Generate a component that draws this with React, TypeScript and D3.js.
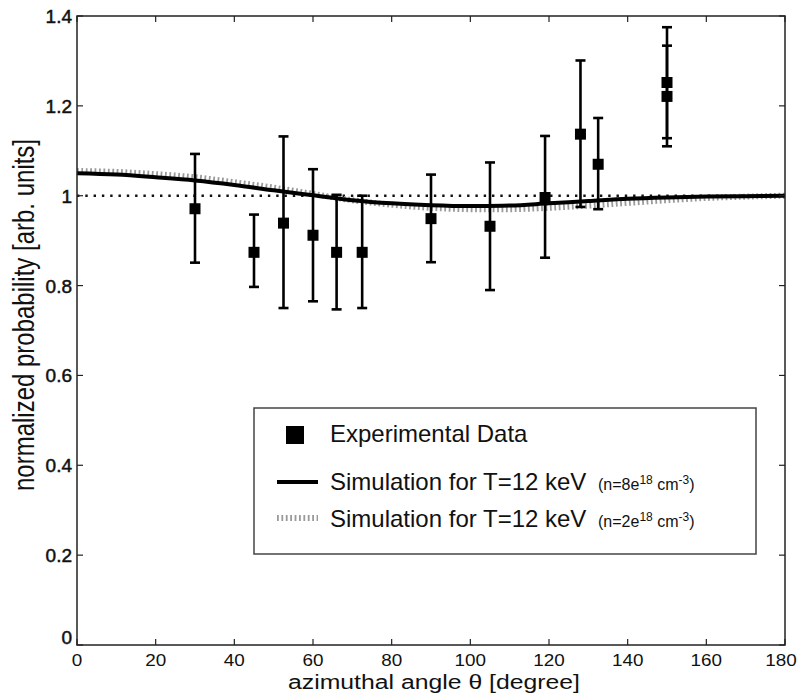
import React from "react";
import * as d3 from "d3";

const xTicks = [0, 20, 40, 60, 80, 100, 120, 140, 160, 180];
const yTicks = [0, 0.2, 0.4, 0.6, 0.8, 1, 1.2, 1.4];

const angles = [30, 45, 52.5, 60, 66, 72.5, 90, 105, 119, 128, 132.5, 150, 150];
const values = [0.971, 0.874, 0.939, 0.912, 0.874, 0.874, 0.949, 0.932, 0.996, 1.137, 1.07, 1.252, 1.221];
const errLow = [0.851, 0.797, 0.75, 0.765, 0.747, 0.75, 0.852, 0.79, 0.862, 0.975, 0.97, 1.128, 1.11];
const errHigh = [1.093, 0.958, 1.132, 1.059, 1.002, 1.0, 1.047, 1.074, 1.133, 1.301, 1.173, 1.375, 1.334];

const simAngles = [0, 10, 20, 30, 40, 50, 60, 70, 80, 90, 100, 110, 120, 130, 140, 150, 160, 170, 180];
const simHigh = [1.05, 1.047, 1.041, 1.034, 1.024, 1.012, 1.001, 0.99, 0.983, 0.979, 0.977, 0.978, 0.983, 0.988, 0.993, 0.996, 0.998, 0.999, 1.0];
const simLow = [1.055, 1.053, 1.048, 1.041, 1.03, 1.018, 1.004, 0.99, 0.98, 0.973, 0.97, 0.97, 0.973, 0.978, 0.984, 0.99, 0.995, 0.998, 1.0];

const legendLabels = ["Experimental Data", "Simulation for T=12 keV", "Simulation for T=12 keV"];
const legendDensities = ["8", "2"];

const W = 800, H = 696;
const L = 77, R = 785, T = 16, B = 645;

export default function App() {
  const x = d3.scaleLinear().domain([0, 180]).range([L, R]);
  const y = d3.scaleLinear().domain([0, 1.4]).range([B, T]);
  const line = d3
    .line<number>()
    .x((_, i) => x(simAngles[i]))
    .y((d) => y(d))
    .curve(d3.curveCatmullRom);
  const font = "'Liberation Sans', Arial, Helvetica, sans-serif";
  const sq = 11;
  const cap = 5;

  return (
    <svg
      width={W}
      height={H}
      style={{ position: "absolute", left: 0, top: 0, background: "#fff" }}
      fontFamily={font}
    >
      <rect x={0} y={0} width={W} height={H} fill="#fff" />
      {/* reference line at 1 */}
      <line x1={L} x2={R} y1={y(1)} y2={y(1)} stroke="#111" strokeWidth={2.6} strokeDasharray="2.4,5.9" />
      {/* simulation curves */}
      <path d={line(simLow) || ""} fill="none" stroke="#9a9a9a" strokeWidth={6} strokeDasharray="1.8,2.6" />
      <path d={line(simHigh) || ""} fill="none" stroke="#000" strokeWidth={4} />
      {/* error bars */}
      {angles.map((a, i) => (
        <g key={"e" + i} stroke="#000" strokeWidth={2.6}>
          <line x1={x(a)} x2={x(a)} y1={y(errLow[i])} y2={y(errHigh[i])} />
          <line x1={x(a) - cap} x2={x(a) + cap} y1={y(errLow[i])} y2={y(errLow[i])} />
          <line x1={x(a) - cap} x2={x(a) + cap} y1={y(errHigh[i])} y2={y(errHigh[i])} />
        </g>
      ))}
      {angles.map((a, i) => (
        <rect key={"s" + i} x={x(a) - sq / 2} y={y(values[i]) - sq / 2} width={sq} height={sq} fill="#000" />
      ))}
      {/* axes box */}
      <rect x={L} y={T} width={R - L} height={B - T} fill="none" stroke="#222" strokeWidth={1.5} />
      {xTicks.map((t) => (
        <g key={"xt" + t} stroke="#222" strokeWidth={1.2}>
          <line x1={x(t)} x2={x(t)} y1={B} y2={B - 6} />
          <line x1={x(t)} x2={x(t)} y1={T} y2={T + 6} />
        </g>
      ))}
      {yTicks.map((t) => (
        <g key={"yt" + t} stroke="#222" strokeWidth={1.2}>
          <line x1={L} x2={L + 6} y1={y(t)} y2={y(t)} />
          <line x1={R} x2={R - 6} y1={y(t)} y2={y(t)} />
        </g>
      ))}
      {xTicks.map((t) => (
        <text
          key={"xl" + t}
          transform={`translate(${t === 180 ? x(t) - 4 : x(t)},666) scale(1.18,1)`}
          textAnchor="middle"
          fontSize={16}
          fill="#111"
        >
          {t}
        </text>
      ))}
      {yTicks.map((t) => (
        <text
          key={"yl" + t}
          x={72}
          y={t === 0 ? y(t) - 1 : y(t) + 7}
          textAnchor="end"
          fontSize={19}
          fill="#111"
          stroke="#111"
          strokeWidth={0.5}
        >
          {d3.format("~g")(t)}
        </text>
      ))}
      <text x={288} y={689} fontSize={20} textLength={292} lengthAdjust="spacingAndGlyphs" fill="#111">
        azimuthal angle θ [degree]
      </text>
      <text
        transform={`translate(34,315) scale(1.2,1) rotate(-90)`}
        textAnchor="middle"
        fontSize={24}
        fill="#111"
      >
        normalized probability [arb. units]
      </text>
      {/* legend */}
      <rect x={254} y={408} width={502} height={146} fill="#fff" stroke="#444" strokeWidth={1.5} />
      <rect x={286} y={426} width={18} height={18} fill="#000" />
      <line x1={277} x2={318} y1={482} y2={482} stroke="#000" strokeWidth={4} />
      <line x1={277} x2={318} y1={518} y2={518} stroke="#9a9a9a" strokeWidth={6} strokeDasharray="1.8,2.6" />
      <text x={330} y={442} fontSize={24} fill="#111">{legendLabels[0]}</text>
      {[1, 2].map((k) => (
        <g key={"lg" + k}>
          <text x={330} y={k === 1 ? 490 : 527} fontSize={24} fill="#111">
            {legendLabels[k]}
          </text>
          <text x={598} y={k === 1 ? 490 : 527} fontSize={16} fill="#111">
            (n={legendDensities[k - 1]}e
            <tspan fontSize={12} dy={-6}>18</tspan>
            <tspan dy={6}> cm</tspan>
            <tspan fontSize={12} dy={-6}>-3</tspan>
            <tspan dy={6}>)</tspan>
          </text>
        </g>
      ))}
    </svg>
  );
}
